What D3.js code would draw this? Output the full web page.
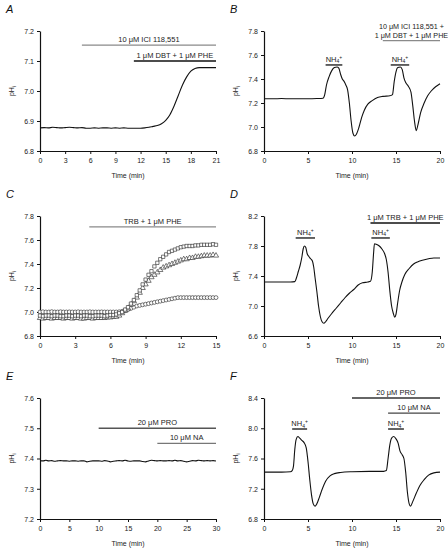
<!DOCTYPE html>
<html><head><meta charset="utf-8">
<script src="https://cdn.jsdelivr.net/npm/d3@7"></script>
<style>
body{margin:0;background:#fff}
svg{display:block;font-family:Arial,"Liberation Sans",sans-serif}
</style></head>
<body><svg id="c" width="448" height="551"></svg>
<script>
// ---------- DATA ----------
const timeA = [0,0.5,1,1.5,2,2.5,3,3.5,4,4.5,5,5.5,6,6.5,7,7.5,8,8.5,9,9.5,10,10.5,11,11.5,12,12.5,13,13.5,14,14.5,15,15.5,16,16.5,17,17.5,18,18.5,19,19.5,20,21];
const phA = [6.877,6.878,6.877,6.879,6.878,6.877,6.878,6.879,6.878,6.877,6.878,6.876,6.876,6.877,6.876,6.877,6.877,6.876,6.877,6.876,6.877,6.876,6.876,6.876,6.876,6.877,6.879,6.882,6.885,6.891,6.902,6.921,6.95,6.985,7.02,7.047,7.066,7.075,7.078,7.078,7.078,7.078];
const xTicksA = [0,3,6,9,12,15,18,21];
const yTicksA = [6.8,6.9,7.0,7.1,7.2];
const barsA = [
  {label:"10 μM ICI 118,551", start:5, end:21, level:7.153, color:"#8a8a8a"},
  {label:"1 μM DBT + 1 μM PHE", start:11.2, end:21, level:7.1, color:"#111"}
];

const timeB = [0,1,2,3,4,5,6,6.7,6.9,7.1,7.4,7.7,8.0,8.3,8.5,8.7,8.9,9.1,9.3,9.5,9.7,9.9,10.1,10.3,10.5,10.8,11.1,11.4,11.8,12.3,12.9,13.5,14.3,14.6,14.8,15.0,15.2,15.5,15.7,15.9,16.1,16.4,16.7,16.9,17.1,17.3,17.5,17.8,18.2,18.6,19.0,19.5,20];
const phB = [7.235,7.235,7.237,7.235,7.236,7.235,7.237,7.24,7.27,7.35,7.42,7.47,7.495,7.5,7.49,7.44,7.4,7.38,7.35,7.31,7.2,7.05,6.95,6.925,6.94,7.0,7.08,7.14,7.19,7.22,7.245,7.255,7.26,7.27,7.38,7.46,7.495,7.5,7.48,7.41,7.37,7.34,7.29,7.18,7.05,6.97,7.02,7.12,7.2,7.26,7.3,7.335,7.36];
const xTicksB = [0,5,10,15,20];
const yTicksB = [6.8,7.0,7.2,7.4,7.6,7.8];
const barsB = [
  {label:"NH4+", start:7.0, end:8.9, level:7.517, color:"#111"},
  {label:"NH4+", start:14.4, end:16.5, level:7.517, color:"#111"},
  {label:"10 μM ICI 118,551 +|1 μM DBT + 1 μM PHE", start:13.5, end:20, level:7.72, color:"#8a8a8a"}
];

const timeC = [0,0.25,0.5,0.75,1,1.25,1.5,1.75,2,2.25,2.5,2.75,3,3.25,3.5,3.75,4,4.25,4.5,4.75,5,5.25,5.5,5.75,6,6.25,6.5,6.75,7,7.25,7.5,7.75,8,8.25,8.5,8.75,9,9.25,9.5,9.75,10,10.25,10.5,10.75,11,11.25,11.5,11.75,12,12.25,12.5,12.75,13,13.25,13.5,13.75,14,14.25,14.5,14.75,15];
const phCsquare = [6.97,6.965,6.97,6.97,6.965,6.97,6.97,6.965,6.965,6.97,6.97,6.965,6.97,6.97,6.965,6.97,6.97,6.965,6.965,6.97,6.97,6.97,6.965,6.97,6.975,6.975,6.98,6.99,7.0,7.02,7.04,7.07,7.1,7.14,7.18,7.23,7.27,7.31,7.34,7.38,7.41,7.44,7.46,7.48,7.5,7.51,7.52,7.53,7.54,7.545,7.55,7.55,7.55,7.555,7.555,7.56,7.56,7.56,7.56,7.565,7.56];
const phCtriangle = [6.95,6.945,6.95,6.95,6.945,6.95,6.95,6.95,6.945,6.95,6.95,6.945,6.95,6.95,6.945,6.945,6.95,6.95,6.945,6.95,6.95,6.95,6.95,6.955,6.955,6.96,6.96,6.97,6.99,7.01,7.03,7.06,7.09,7.12,7.16,7.2,7.23,7.26,7.29,7.31,7.33,7.35,7.37,7.38,7.39,7.4,7.41,7.42,7.43,7.44,7.44,7.45,7.45,7.46,7.46,7.465,7.47,7.47,7.47,7.475,7.47];
const phCcircle = [7.0,7.002,7.0,7.0,7.003,7.0,7.0,7.002,7.0,7.0,7.001,7.0,7.0,7.002,7.0,7.0,7.0,7.002,7.0,7.0,7.0,7.001,7.0,7.0,7.0,7.0,7.0,7.002,7.005,7.01,7.02,7.03,7.04,7.05,7.055,7.06,7.065,7.07,7.075,7.08,7.085,7.09,7.095,7.1,7.105,7.11,7.115,7.12,7.12,7.12,7.12,7.12,7.12,7.12,7.12,7.12,7.12,7.12,7.12,7.12,7.12];
const xTicksC = [0,3,6,9,12,15];
const yTicksC = [6.8,7.0,7.2,7.4,7.6,7.8];
const barsC = [
  {label:"TRB + 1 μM PHE", start:4.2, end:15, level:7.71, color:"#8a8a8a"}
];

const timeD = [0,1,2,3,3.5,3.7,3.9,4.1,4.3,4.45,4.6,4.75,4.9,5.1,5.3,5.5,5.65,5.8,6.0,6.2,6.4,6.6,6.8,7.0,7.3,7.7,8.2,8.7,9.2,9.7,10.2,10.7,11.2,11.8,12.1,12.3,12.45,12.55,12.8,13.1,13.4,13.7,13.9,14.1,14.3,14.5,14.7,14.85,15.0,15.2,15.4,15.7,16.0,16.5,17.0,17.5,18.0,18.7,19.3,20];
const phD = [7.32,7.32,7.32,7.32,7.325,7.38,7.46,7.54,7.65,7.76,7.8,7.78,7.7,7.66,7.63,7.6,7.52,7.38,7.2,7.0,6.86,6.79,6.77,6.79,6.84,6.9,6.97,7.04,7.11,7.17,7.22,7.28,7.31,7.32,7.33,7.45,7.7,7.83,7.82,7.8,7.76,7.7,7.62,7.45,7.2,7.0,6.9,6.85,6.89,7.05,7.2,7.33,7.42,7.5,7.56,7.59,7.61,7.63,7.64,7.64];
const xTicksD = [0,5,10,15,20];
const yTicksD = [6.6,7.0,7.4,7.8,8.2];
const barsD = [
  {label:"NH4+", start:3.6, end:5.8, level:7.907, color:"#111"},
  {label:"NH4+", start:12.2, end:14.3, level:7.907, color:"#111"},
  {label:"1 μM TRB + 1 μM PHE", start:12.1, end:20, level:8.107, color:"#111"}
];

const timeE = [0,0.5,1,1.5,2,2.5,3,3.5,4,4.5,5,5.5,6,6.5,7,7.5,8,8.5,9,9.5,10,10.5,11,11.5,12,12.5,13,13.5,14,14.5,15,15.5,16,16.5,17,17.5,18,18.5,19,19.5,20,20.5,21,21.5,22,22.5,23,23.5,24,24.5,25,25.5,26,26.5,27,27.5,28,28.5,29,29.5,30];
const phE = [7.393,7.392,7.394,7.392,7.393,7.391,7.392,7.393,7.392,7.392,7.391,7.392,7.392,7.391,7.392,7.392,7.389,7.391,7.392,7.392,7.392,7.391,7.393,7.392,7.389,7.391,7.392,7.393,7.392,7.394,7.392,7.391,7.392,7.392,7.392,7.390,7.389,7.392,7.394,7.393,7.392,7.393,7.392,7.392,7.393,7.392,7.394,7.392,7.393,7.391,7.389,7.391,7.393,7.392,7.394,7.393,7.392,7.393,7.392,7.393,7.392];
const xTicksE = [0,5,10,15,20,25,30];
const yTicksE = [7.2,7.3,7.4,7.5,7.6];
const barsE = [
  {label:"20 μM PRO", start:10, end:30, level:7.5, color:"#555"},
  {label:"10 μM NA", start:20, end:30, level:7.45, color:"#777"}
];

const timeF = [0,1,2,3,3.2,3.35,3.5,3.65,3.85,4.05,4.3,4.55,4.8,5.0,5.2,5.4,5.6,5.8,6.0,6.3,6.6,7.0,7.5,8.0,8.7,10,12,13.6,13.9,14.1,14.3,14.5,14.75,15.0,15.25,15.45,15.7,15.9,16.1,16.3,16.5,16.65,16.9,17.3,17.7,18.2,18.7,19.3,20];
const phF = [7.42,7.42,7.42,7.425,7.44,7.5,7.72,7.85,7.89,7.87,7.84,7.81,7.74,7.56,7.32,7.12,7.0,6.97,7.0,7.09,7.19,7.3,7.37,7.4,7.415,7.425,7.43,7.43,7.44,7.6,7.78,7.87,7.89,7.86,7.8,7.7,7.65,7.6,7.42,7.15,7.0,6.97,7.03,7.14,7.24,7.32,7.38,7.41,7.42];
const xTicksF = [0,5,10,15,20];
const yTicksF = [6.8,7.2,7.6,8.0,8.4];
const barsF = [
  {label:"20 μM PRO", start:10, end:20, level:8.4, color:"#333"},
  {label:"10 μM NA", start:14.1, end:20, level:8.2, color:"#444"},
  {label:"NH4+", start:3.2, end:4.9, level:7.99, color:"#111"},
  {label:"NH4+", start:14.1, end:15.9, level:7.99, color:"#111"}
];

// ---------- DRAW ----------
const svg = d3.select("#c");
const cols = [[40,216],[264,440]];
const rows = [[31,151],[216,336],[398,519]];
const FONT = 7;
const AFONT = 7.5;

function addLabel(sel, label){
  if (label === "NH4+"){
    sel.append("tspan").text("NH");
    sel.append("tspan").attr("font-size",5).attr("dy",1.5).text("4");
    sel.append("tspan").attr("font-size",5).attr("dy",-4.5).text("+");
  } else sel.text(label);
}

function panel(opt){
  const [x0,x1] = cols[opt.col];
  const [yTop,yBot] = rows[opt.row];
  const x = d3.scaleLinear().domain(opt.xDomain).range([x0,x1]);
  const y = d3.scaleLinear().domain(opt.yDomain).range([yBot,yTop]);
  const g = svg.append("g");

  g.append("text").attr("x", x0-34).attr("y", yTop-18)
    .attr("font-size",11).attr("font-style","italic").attr("fill","#111").text(opt.letter);

  const xa = g.append("g").attr("transform",`translate(0,${yBot})`)
    .call(d3.axisBottom(x).tickValues(opt.xTicks).tickSize(3).tickSizeOuter(0).tickFormat(d3.format("d")));
  const ya = g.append("g").attr("transform",`translate(${x0},0)`)
    .call(d3.axisLeft(y).tickValues(opt.yTicks).tickSize(3).tickSizeOuter(0).tickFormat(d3.format(".1f")));
  [xa,ya].forEach(a=>{
    a.select(".domain").attr("stroke","#111").attr("stroke-width",1.2);
    a.selectAll(".tick line").attr("stroke","#111");
    a.selectAll("text").attr("font-size",FONT).attr("fill","#222").attr("font-family",'Arial,"Liberation Sans",sans-serif');
  });
  xa.selectAll("text").attr("dy","0.9em");

  g.append("text").attr("x",(x0+x1)/2).attr("y",yBot+27).attr("text-anchor","middle")
    .attr("font-size",FONT).attr("fill","#222").text("Time (min)");
  const yl = g.append("text").attr("transform",`translate(${x0-26},${(yTop+yBot)/2}) rotate(-90)`)
    .attr("text-anchor","middle").attr("font-size",FONT).attr("fill","#222");
  yl.append("tspan").text("pH");
  yl.append("tspan").attr("font-size",5).attr("dy",1.5).text("i");

  opt.bars.forEach(b=>{
    const yy = y(b.level);
    g.append("line").attr("x1",x(b.start)).attr("x2",x(b.end)).attr("y1",yy).attr("y2",yy)
      .attr("stroke",b.color).attr("stroke-width",1.3);
    const lines = b.label.split("|");
    const cx = (x(b.start)+x(b.end))/2;
    lines.forEach((ln,i)=>{
      const t = g.append("text").attr("x",cx).attr("y",yy-3-(lines.length-1-i)*8.5)
        .attr("text-anchor","middle").attr("font-size",lines.length>1 ? 7.2 : AFONT).attr("fill","#222");
      addLabel(t, ln);
    });
  });

  const line = d3.line().x(d=>x(d[0])).y(d=>y(d[1])).curve(d3.curveMonotoneX);
  opt.series.forEach(s=>{
    const pts = s.t.map((t,i)=>[t,s.v[i]]);
    if (s.symbol){
      const sym = d3.symbol().type(s.symbol).size(s.size||14);
      g.selectAll(null).data(pts).join("path")
        .attr("transform",d=>`translate(${x(d[0])},${y(d[1])})`)
        .attr("d",sym).attr("fill","#fff").attr("stroke","#222").attr("stroke-width",0.6);
    } else {
      g.append("path").datum(pts).attr("d",line).attr("fill","none")
        .attr("stroke","#111").attr("stroke-width",1.1);
    }
  });
}

panel({letter:"A",col:0,row:0,xDomain:[0,21],yDomain:[6.8,7.2],xTicks:xTicksA,yTicks:yTicksA,bars:barsA,
  series:[{t:timeA,v:phA}]});
panel({letter:"B",col:1,row:0,xDomain:[0,20],yDomain:[6.8,7.8],xTicks:xTicksB,yTicks:yTicksB,bars:barsB,
  series:[{t:timeB,v:phB}]});
panel({letter:"C",col:0,row:1,xDomain:[0,15],yDomain:[6.8,7.8],xTicks:xTicksC,yTicks:yTicksC,bars:barsC,
  series:[{t:timeC,v:phCcircle,symbol:d3.symbolCircle,size:12},
          {t:timeC,v:phCtriangle,symbol:d3.symbolTriangle,size:12},
          {t:timeC,v:phCsquare,symbol:d3.symbolSquare,size:11}]});
panel({letter:"D",col:1,row:1,xDomain:[0,20],yDomain:[6.6,8.2],xTicks:xTicksD,yTicks:yTicksD,bars:barsD,
  series:[{t:timeD,v:phD}]});
panel({letter:"E",col:0,row:2,xDomain:[0,30],yDomain:[7.2,7.6],xTicks:xTicksE,yTicks:yTicksE,bars:barsE,
  series:[{t:timeE,v:phE}]});
panel({letter:"F",col:1,row:2,xDomain:[0,20],yDomain:[6.8,8.4],xTicks:xTicksF,yTicks:yTicksF,bars:barsF,
  series:[{t:timeF,v:phF}]});
</script></body></html>
